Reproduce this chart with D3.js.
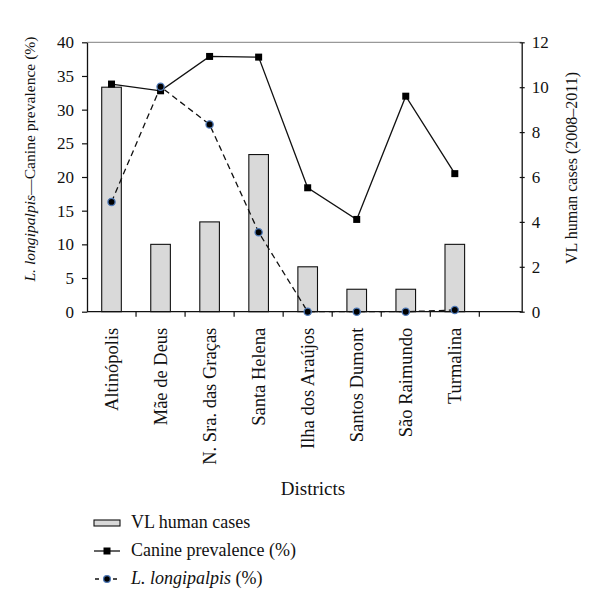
<!DOCTYPE html>
<html><head><meta charset="utf-8">
<script src="https://cdn.jsdelivr.net/npm/d3@7"></script>
<style>body{margin:0;background:#fff}</style>
</head><body>
<script>
const districts = ["Altinópolis","Mãe de Deus","N. Sra. das Graças","Santa Helena","Ilha dos Araújos","Santos Dumont","São Raimundo","Turmalina"];
const vlCases = [10,3,4,7,2,1,1,3];
const caninePrev = [33.8,32.8,37.9,37.8,18.4,13.7,32.0,20.5];
const lutzomyia = [16.3,33.4,27.8,11.8,0,0,0,0.25];
const leftTicks = [0,5,10,15,20,25,30,35,40];
const rightTicks = [0,2,4,6,8,10,12];

const W=600,H=609;
const FF='"Liberation Serif","Times New Roman"';
const svg=d3.select("body").append("svg").attr("width",W).attr("height",H);
const x0=87, xR=521.7, yTop=42.3, yBot=311.7, bw=49.04;
const cats=districts.concat([" "]);
const x=d3.scaleBand().domain(cats).range([x0,x0+bw*cats.length]).paddingInner(0).paddingOuter(0);
const yL=d3.scaleLinear().domain([0,40]).range([yBot,yTop]);
const yR=d3.scaleLinear().domain([0,12]).range([yBot,yTop]);
const FS=17, FL=18.5;

// top gridline
svg.append("line").attr("x1",x0).attr("x2",xR).attr("y1",yTop).attr("y2",yTop).attr("stroke","#999").attr("stroke-width",1.2);

// bars
svg.selectAll("rect.bar").data(districts).enter().append("rect")
 .attr("x",d=>x(d)+x.bandwidth()*0.3).attr("width",x.bandwidth()*0.4)
 .attr("y",(d,i)=>yR(vlCases[i])).attr("height",(d,i)=>yBot-yR(vlCases[i]))
 .attr("fill","#d9d9d9").attr("stroke","#111").attr("stroke-width",1.1);

// axes
const axL=svg.append("g").attr("transform",`translate(${x0},0)`)
 .call(d3.axisLeft(yL).tickValues(leftTicks).tickSize(5).tickPadding(8).tickSizeOuter(0));
const axR=svg.append("g").attr("transform",`translate(${xR},0)`)
 .call(d3.axisRight(yR).tickValues(rightTicks).tickSize(3).tickPadding(7).tickSizeOuter(0));
[axL,axR].forEach(a=>{
 a.select(".domain").attr("stroke","#111").attr("stroke-width",1.3);
 a.selectAll(".tick line").attr("stroke","#111").attr("stroke-width",1.2);
 a.selectAll("text").style("font-family",FF).style("font-size",FS+"px").attr("fill","#111");});
axR.selectAll(".tick line").attr("x1",-2);

// x axis
svg.append("line").attr("x1",x0).attr("x2",xR).attr("y1",yBot).attr("y2",yBot).attr("stroke","#111").attr("stroke-width",1.3);
const bounds=cats.slice(1).map(c=>x(c)).filter(v=>v<xR-5);
svg.selectAll("line.xt").data(bounds).enter().append("line")
 .attr("x1",d=>d).attr("x2",d=>d).attr("y1",yBot).attr("y2",yBot+5).attr("stroke","#111").attr("stroke-width",1.2);
svg.selectAll("text.xl").data(districts).enter().append("text")
 .attr("transform",d=>`translate(${x(d)+x.bandwidth()/2+6},${yBot+16}) rotate(-90)`)
 .attr("text-anchor","end").style("font-family",FF).style("font-size",FL+"px").attr("fill","#111").text(d=>d);

// lines
const cx=d=>x(d)+x.bandwidth()/2;
const lineC=d3.line().x(d=>cx(d.d)).y(d=>yL(d.v));
const cData=districts.map((d,i)=>({d,v:caninePrev[i]}));
const lData=districts.map((d,i)=>({d,v:lutzomyia[i]}));
svg.append("path").attr("d",lineC(cData)).attr("fill","none").attr("stroke","#111").attr("stroke-width",1.3);
svg.append("path").attr("d",lineC(lData)).attr("fill","none").attr("stroke","#111").attr("stroke-width",1.3).attr("stroke-dasharray","6,4");
svg.selectAll("rect.sq").data(cData).enter().append("rect")
 .attr("x",d=>cx(d.d)-3.5).attr("y",d=>yL(d.v)-3.5).attr("width",7).attr("height",7).attr("fill","#000");
svg.selectAll("circle.lp").data(lData).enter().append("circle")
 .attr("cx",d=>cx(d.d)).attr("cy",d=>yL(d.v)).attr("r",3.6).attr("fill","#000").attr("stroke","#4f7ab8").attr("stroke-width",1.3);

// axis titles
const tl=svg.append("text").attr("transform","translate(35,159) rotate(-90)").attr("text-anchor","middle").style("font-family",FF).style("font-size","15.6px").attr("fill","#111");
tl.append("tspan").attr("font-style","italic").text("L. longipalpis");
tl.append("tspan").text("—Canine prevalence (%)");
svg.append("text").attr("transform","translate(577,168) rotate(-90)").attr("text-anchor","middle").style("font-family",FF).style("font-size","16px").attr("fill","#111").text("VL human cases (2008–2011)");
svg.append("text").attr("x",313).attr("y",495).attr("text-anchor","middle").style("font-family",FF).style("font-size","19px").attr("fill","#111").text("Districts");

// legend
const lx=94, tx=131;
const ly=[523,551,579];
svg.append("rect").attr("x",lx).attr("y",ly[0]-3).attr("width",26).attr("height",6).attr("fill","#d9d9d9").attr("stroke","#111").attr("stroke-width",1.1);
svg.append("line").attr("x1",lx).attr("x2",lx+26).attr("y1",ly[1]).attr("y2",ly[1]).attr("stroke","#111").attr("stroke-width",1.3);
svg.append("rect").attr("x",lx+13-3.5).attr("y",ly[1]-3.5).attr("width",7).attr("height",7).attr("fill","#000");
svg.append("line").attr("x1",lx).attr("x2",lx+26).attr("y1",ly[2]).attr("y2",ly[2]).attr("stroke","#111").attr("stroke-width",1.3).attr("stroke-dasharray","4,5").attr("stroke-dashoffset",-1);
svg.append("circle").attr("cx",lx+13).attr("cy",ly[2]).attr("r",3.4).attr("fill","#000").attr("stroke","#4f7ab8").attr("stroke-width",1.3);
const legStyle=s=>s.style("font-family",FF).style("font-size","18px").attr("fill","#111");
svg.append("text").attr("x",tx).attr("y",ly[0]+5).call(legStyle).text("VL human cases");
svg.append("text").attr("x",tx).attr("y",ly[1]+5).call(legStyle).text("Canine prevalence (%)");
const l3=svg.append("text").attr("x",tx).attr("y",ly[2]+5).call(legStyle);
l3.append("tspan").attr("font-style","italic").text("L. longipalpis");
l3.append("tspan").text(" (%)");
</script>
</body></html>
